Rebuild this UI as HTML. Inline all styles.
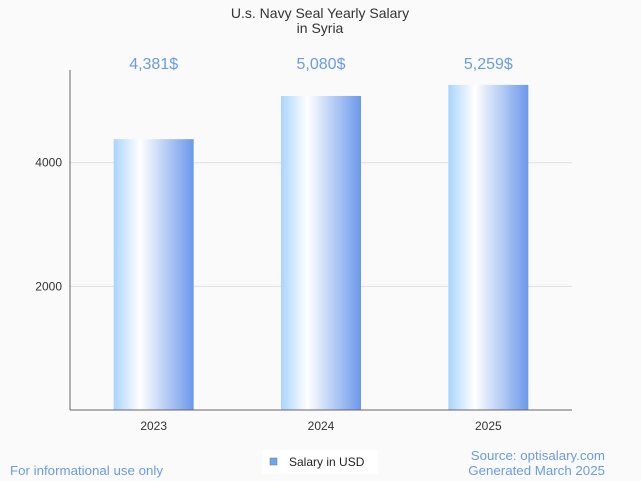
<!DOCTYPE html>
<html><head><meta charset="utf-8"><style>
body{margin:0;background:#fafafa;}
svg{display:block;font-family:"Liberation Sans",sans-serif;}
</style></head><body>
<svg id="c" width="641" height="481">
<defs><linearGradient id="g" x1="0" x2="1" y1="0" y2="0">
<stop offset="0" stop-color="#a9d4ff"/><stop offset="0.33" stop-color="#ffffff"/><stop offset="1" stop-color="#6b98ea"/>
</linearGradient></defs>
<rect width="641" height="481" fill="#fafafa"/>
<text x="320" y="18" text-anchor="middle" font-size="14" fill="#333">U.s. Navy Seal Yearly Salary</text>
<text x="320" y="33" text-anchor="middle" font-size="14" fill="#333">in Syria</text>
<g id="grid"></g><g id="bars"></g>
<line x1="70" y1="70" x2="70" y2="410" stroke="#666"/>
<line x1="70" y1="410" x2="572" y2="410" stroke="#666"/>
<rect x="262" y="450" width="116" height="24" fill="#fff"/>
<rect x="270" y="458" width="7" height="7" fill="#6aa5ee" stroke="#777" stroke-width="0.5"/>
<text x="289" y="466" font-size="12" fill="#222">Salary in USD</text>
<text x="10" y="475" font-size="13.3" fill="#6b9be8">For informational use only</text>
<text x="605" y="460" text-anchor="end" font-size="13.3" fill="#6b9be8">Source: optisalary.com</text>
<text x="605" y="475" text-anchor="end" font-size="13.3" fill="#6b9be8">Generated March 2025</text>
</svg>
<script>
const categories=["2023","2024","2025"];
const values=[4381,5080,5259];
const valueLabels=["4,381$","5,080$","5,259$"];
const yTicks=[2000,4000];
const NS="http://www.w3.org/2000/svg";
const x0=70,x1=572,yBase=410,yMax=5500,yTop=70;
const y=v=>yBase-v/yMax*(yBase-yTop);
const band=(x1-x0)/categories.length;
const xc=i=>x0+band*(i+0.5);
function mk(t,a,p){const e=document.createElementNS(NS,t);for(const k in a)e.setAttribute(k,a[k]);p.appendChild(e);return e;}
const grid=document.getElementById('grid'),bars=document.getElementById('bars');
yTicks.forEach(t=>{
 const l=mk('line',{x1:x0,x2:x1,y1:y(t),y2:y(t),stroke:'#e0e0e0'},grid);
 
 
 const tx=mk('text',{x:x0-8,y:y(t)+4,'text-anchor':'end','font-size':12,fill:'#333'},grid);
 tx.textContent=t;
 
 
});
categories.forEach((c,i)=>{
 const r=mk('rect',{x:xc(i)-40,y:y(values[i]),width:80,height:yBase-y(values[i]),fill:'url(#g)'},bars);
 
 
 const v=mk('text',{x:xc(i),y:69,'text-anchor':'middle','font-size':16,fill:'#6b9be8'},bars);
 v.textContent=valueLabels[i];
 
 
 const t=mk('text',{x:xc(i),y:430,'text-anchor':'middle','font-size':12,fill:'#333'},bars);
 t.textContent=c;
 
 
});
</script>
</body></html>
